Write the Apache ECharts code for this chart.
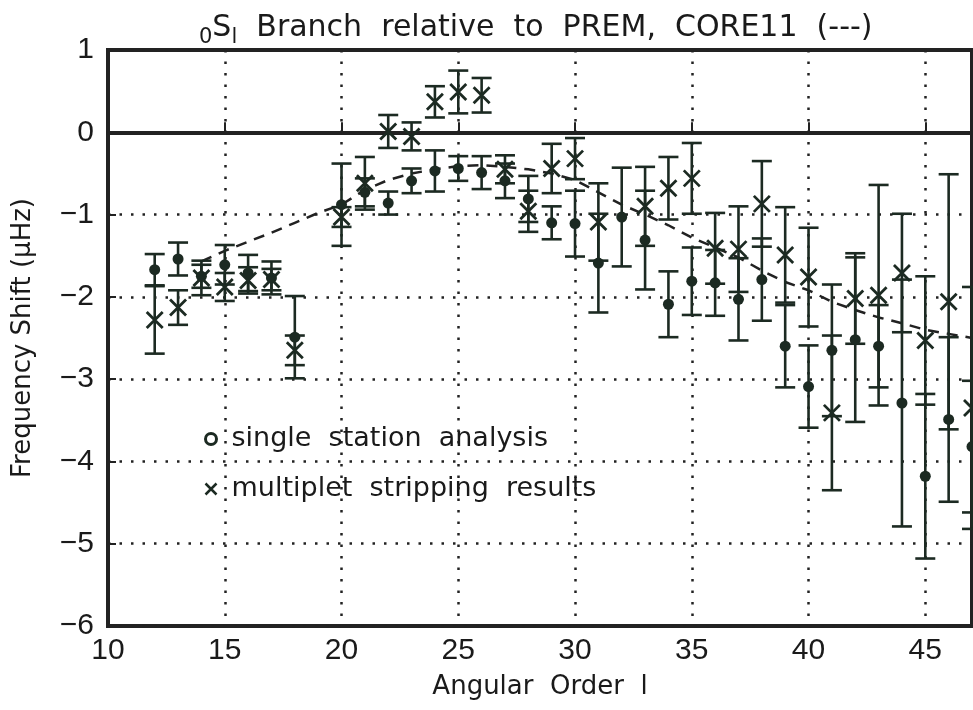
<!DOCTYPE html>
<html>
<head>
<meta charset="utf-8">
<script src="https://cdn.jsdelivr.net/npm/echarts@6/dist/echarts.min.js"></script>
<style>
html,body{margin:0;padding:0;background:#fff;}
#chart{width:973px;height:710px;}
</style>
</head>
<body>
<div id="chart"></div>
<script>
// ---- data ----
const xTicks = [10, 15, 20, 25, 30, 35, 40, 45];
const yTicks = [-6, -5, -4, -3, -2, -1, 0, 1];

// single station analysis (circles)
const ssL   = [12, 13, 14, 15, 16, 17, 18, 20, 21, 22, 23, 24, 25, 26, 27, 28, 29, 30, 31, 32, 33, 34, 35, 36, 37, 38, 39, 40, 41, 42, 43, 44, 45, 46, 47];
const ssVal = [-1.67, -1.54, -1.75, -1.61, -1.71, -1.77, -2.49, -0.88, -0.73, -0.86, -0.59, -0.47, -0.44, -0.49, -0.59, -0.81, -1.10, -1.11, -1.59, -1.03, -1.31, -2.09, -1.81, -1.83, -2.03, -1.79, -2.60, -3.09, -2.65, -2.52, -2.60, -3.29, -4.18, -3.49, -3.82];
const ssErr = [0.19, 0.20, 0.14, 0.24, 0.22, 0.20, 0.50, 0.50, 0.17, 0.14, 0.15, 0.25, 0.15, 0.20, 0.21, 0.28, 0.20, 0.40, 0.60, 0.60, 0.60, 0.40, 0.41, 0.40, 0.50, 0.50, 0.50, 0.50, 0.80, 1.00, 0.50, 1.50, 1.00, 1.00, 0.80];

// multiplet stripping results (crosses)
const msL   = [12, 13, 14, 15, 16, 17, 18, 20, 21, 22, 23, 24, 25, 26, 27, 28, 29, 30, 31, 33, 34, 35, 36, 37, 38, 39, 40, 41, 42, 43, 44, 45, 46, 47];
const msVal = [-2.28, -2.13, -1.77, -1.88, -1.80, -1.79, -2.65, -1.03, -0.62, 0.01, -0.05, 0.37, 0.49, 0.45, -0.45, -0.96, -0.44, -0.32, -1.09, -0.90, -0.68, -0.56, -1.41, -1.42, -0.87, -1.49, -1.76, -3.41, -2.02, -1.98, -1.71, -2.53, -2.06, -3.35];
const msErr = [0.41, 0.21, 0.21, 0.17, 0.16, 0.13, 0.18, 0.12, 0.32, 0.20, 0.17, 0.19, 0.26, 0.21, 0.17, 0.25, 0.30, 0.25, 0.47, 0.48, 0.38, 0.43, 0.43, 0.52, 0.52, 0.58, 0.60, 0.94, 0.55, 1.34, 0.72, 0.78, 1.55, 1.47];

// CORE11 model (dashed)
const coreL   = [14, 15, 16, 17, 18, 19, 20, 21, 22, 23, 24, 25, 26, 27, 28, 29, 30, 31, 32, 33, 34, 35, 36, 37, 38, 39, 40, 41, 42, 43, 44, 45, 46, 47];
const coreVal = [-1.57, -1.44, -1.33, -1.22, -1.10, -0.98, -0.88, -0.70, -0.58, -0.50, -0.45, -0.41, -0.40, -0.42, -0.45, -0.50, -0.58, -0.73, -0.88, -1.00, -1.13, -1.28, -1.40, -1.52, -1.68, -1.82, -1.92, -2.06, -2.16, -2.25, -2.32, -2.40, -2.45, -2.50];

const seriesNames = ['single  station  analysis', 'multiplet  stripping  results'];

// ---- chart ----
const INK = '#1c2a22';
const TXT = '#1a1a1a';
const FONT = '"Liberation Sans", Arial, sans-serif';
const WIDE = '"DejaVu Sans", sans-serif';
const CROSS = 'path://M0,0 L10,10 M10,0 L0,10';

function errBars(params, api) {
  const x = api.value(0), v = api.value(1), e = api.value(2);
  const t = api.coord([x, v + e]);
  const b = api.coord([x, v - e]);
  const hw = 10;
  const st = { stroke: INK, lineWidth: 2.6 };
  return {
    type: 'group',
    children: [
      { type: 'line', shape: { x1: t[0], y1: t[1], x2: b[0], y2: b[1] }, style: st },
      { type: 'line', shape: { x1: t[0] - hw, y1: t[1], x2: t[0] + hw, y2: t[1] }, style: st },
      { type: 'line', shape: { x1: b[0] - hw, y1: b[1], x2: b[0] + hw, y2: b[1] }, style: st }
    ]
  };
}

const chart = echarts.init(document.getElementById('chart'), null, { renderer: 'canvas' });
chart.setOption({
  animation: false,
  backgroundColor: '#fff',
  title: {
    text: '{s|0}{b|S}{s|l}{b|  Branch  relative  to  PREM,  CORE11  (---)}',
    left: 194,
    top: 3,
    textStyle: {
      fontWeight: 'normal',
      rich: {
        b: { fontFamily: WIDE, fontSize: 30, fontWeight: 'normal', color: TXT, lineHeight: 40, verticalAlign: 'middle' },
        s: { fontFamily: WIDE, fontSize: 21, fontWeight: 'normal', color: TXT, lineHeight: 40, verticalAlign: 'bottom', padding: [17, 0, 0, 0] }
      }
    }
  },
  legend: {
    orient: 'vertical',
    left: 199,
    top: 420,
    itemGap: 22,
    itemWidth: 11,
    itemHeight: 11,
    textStyle: { fontFamily: WIDE, fontSize: 27, color: TXT, padding: [0, 0, 0, 10], lineHeight: 28 },
    data: [
      { name: seriesNames[0], icon: 'circle', itemStyle: { color: '#ffffff', borderColor: INK, borderWidth: 3 } },
      { name: seriesNames[1], icon: CROSS, itemStyle: { color: 'transparent', borderColor: INK, borderWidth: 2.5 } }
    ]
  },
  grid: {
    left: 108, right: 1, top: 50, bottom: 84,
    show: true, borderColor: '#222', borderWidth: 4, backgroundColor: 'transparent'
  },
  xAxis: {
    type: 'value', min: xTicks[0], max: 47, interval: 5,
    name: 'Angular  Order  l', nameLocation: 'middle', nameGap: 48,
    nameTextStyle: { fontFamily: WIDE, fontSize: 26, color: TXT },
    axisLine: { show: true, lineStyle: { color: '#222', width: 4 } },
    axisTick: { show: true, inside: true, length: 10, lineStyle: { color: '#222', width: 2 } },
    axisLabel: { fontFamily: FONT, fontSize: 30, color: TXT, margin: 10, showMaxLabel: false },
    splitLine: { show: true, lineStyle: { color: '#222', width: 2.5, type: [2.5, 9] } }
  },
  yAxis: {
    type: 'value', min: yTicks[0], max: yTicks[yTicks.length - 1], interval: 1,
    name: 'Frequency Shift (μHz)', nameLocation: 'middle', nameGap: 72, nameRotate: 90,
    nameTextStyle: { fontFamily: WIDE, fontSize: 26, color: TXT },
    axisLine: { show: true, lineStyle: { color: '#222', width: 4 } },
    axisTick: { show: true, inside: true, length: 8, lineStyle: { color: '#222', width: 2 } },
    axisLabel: { fontFamily: FONT, fontSize: 30, color: TXT, margin: 14,
      formatter: v => String(v).replace('-', '−') },
    splitLine: { show: true, lineStyle: { color: '#222', width: 2.5, type: [2.5, 9] } }
  },
  series: [
    {
      type: 'custom', name: 'ss-err', renderItem: errBars, clip: false, silent: true, z: 3,
      encode: { x: 0, y: 1 },
      data: ssL.map((l, i) => [l, ssVal[i], ssErr[i]])
    },
    {
      type: 'custom', name: 'ms-err', renderItem: errBars, clip: false, silent: true, z: 3,
      encode: { x: 0, y: 1 },
      data: msL.map((l, i) => [l, msVal[i], msErr[i]])
    },
    {
      type: 'line', name: 'CORE11', showSymbol: false, symbol: 'none', smooth: false, z: 2,
      lineStyle: { color: '#222', width: 2.5, type: [11, 8] },
      data: coreL.map((l, i) => [l, coreVal[i]]),
      markLine: {
        silent: true, symbol: 'none', label: { show: false },
        lineStyle: { color: '#222', width: 2, type: 'solid' },
        data: [{ yAxis: 0 }]
      }
    },
    {
      type: 'scatter', name: seriesNames[0], symbol: 'circle', symbolSize: 11, z: 5, clip: false,
      itemStyle: { color: INK, opacity: 1 },
      data: ssL.map((l, i) => [l, ssVal[i]])
    },
    {
      type: 'scatter', name: seriesNames[1], symbol: CROSS, symbolSize: 16, z: 6, clip: false,
      itemStyle: { color: 'transparent', borderColor: INK, borderWidth: 2.8, opacity: 1 },
      data: msL.map((l, i) => [l, msVal[i]])
    }
  ]
});
</script>
</body>
</html>
